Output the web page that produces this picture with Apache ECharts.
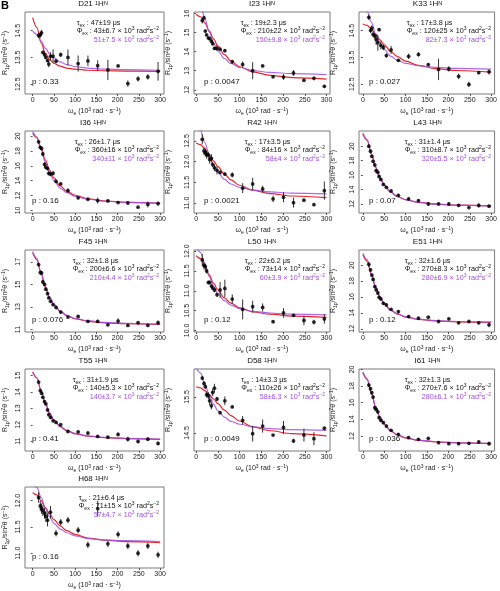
<!DOCTYPE html>
<html><head><meta charset="utf-8">
<script src="https://cdn.jsdelivr.net/npm/echarts@6/dist/echarts.min.js"></script>
<style>html,body{margin:0;padding:0;background:#fff}#c{width:500px;height:591px}</style>
</head><body><div id="c"></div>
<script>
// ---------- data ----------
const residues = ['D21','I23','K33','I36','R42','L43','F45','L50','E51','T55','D58','I61','H68'];
const omegaE = [14,18,21,24,28,31,35,38,42,48,55,66,83,107,130,153,177,201,224,248,271,295];
const fitX = [0,10,20,30,40,50,65,80,100,130,170,220,300];
const xTickValues = [0,50,100,150,200,250,300];

const D21_obs = [14.32,14.35,14.42,13.69,13.6,13.5,13.38,13.25,13.54,13.55,13.36,13.6,13.5,13.27,13.37,13.19,13.03,13.18,12.52,12.7,12.77,12.98];
const D21_err = [0.1,0.12,0.12,0.06,0.06,0.06,0.06,0.12,0.15,0.25,0.08,0.08,0.3,0.3,0.2,0.2,0.38,0.04,0.12,0.1,0.1,0.35];
const D21_red = [14.99,14.62,14.04,13.65,13.42,13.28,13.17,13.10,13.06,13.02,13.0,12.99,12.98];
const D21_purple = [14.48,14.36,14.11,13.84,13.63,13.48,13.33,13.23,13.16,13.10,13.06,13.04,13.02];

const I23_obs = [15.63,15.77,15.08,14.88,14.72,14.68,14.55,14.42,14.17,14.18,14.13,14.05,13.47,13.33,13.0,13.25,12.68,12.67,12.88,12.5,12.6,12.18];
const I23_err = [0.15,0.12,0.08,0.06,0.06,0.06,0.08,0.1,0.08,0.15,0.06,0.08,0.1,0.15,0.45,0.05,0.06,0.15,0.15,0.06,0.1,0.08];
const I23_red = [15.95,15.83,15.51,15.09,14.67,14.29,13.84,13.51,13.21,12.94,12.76,12.64,12.56];
const I23_purple = [16.75,16.44,15.74,15.03,14.45,14.04,13.63,13.38,13.17,13.01,12.91,12.85,12.8];

const K33_obs = [15.0,14.51,14.6,14.36,14.3,14.17,14.05,14.54,13.95,13.87,13.57,13.78,13.39,13.54,13.61,13.23,13.05,13.07,12.79,12.49,12.93,12.96];
const K33_err = [0.1,0.1,0.1,0.1,0.1,0.2,0.3,0.06,0.15,0.1,0.08,0.15,0.06,0.1,0.08,0.05,0.4,0.1,0.1,0.1,0.04,0.1];
const K33_red = [14.75,14.70,14.56,14.36,14.16,13.97,13.72,13.54,13.36,13.20,13.08,13.01,12.95];
const K33_purple = [15.41,15.22,14.81,14.38,14.04,13.80,13.55,13.40,13.28,13.19,13.13,13.09,13.06];

const I36_obs = [19.24,18.5,18.34,17.6,16.2,15.8,15.64,15.0,14.9,15.0,13.9,13.57,12.67,11.69,11.5,11.33,11.28,11.06,11.0,10.43,10.8,10.92];
const I36_err = [0.2,0.2,0.2,0.3,0.3,0.2,0.2,0.3,0.3,0.3,0.2,0.2,0.3,0.2,0.15,0.4,0.2,0.15,0.2,0.1,0.4,0.3];
const I36_red = [20.4,19.8,18.36,16.77,15.41,14.37,13.29,12.6,12.04,11.57,11.27,11.09,10.95];
const I36_purple = [20.65,19.89,18.18,16.43,15.02,14.01,13.01,12.39,11.89,11.5,11.24,11.09,10.98];

const R42_obs = [12.54,12.26,12.22,12.17,12.16,12.05,12.08,11.93,11.85,11.79,11.74,11.7,11.68,11.36,11.46,11.34,11.1,11.14,11.01,11.07,10.96,11.3];
const R42_err = [0.12,0.1,0.1,0.1,0.08,0.1,0.1,0.06,0.08,0.1,0.04,0.04,0.06,0.12,0.15,0.08,0.08,0.12,0.12,0.03,0.03,0.22];
const R42_red = [12.45,12.41,12.31,12.17,12.02,11.88,11.70,11.56,11.43,11.31,11.23,11.17,11.13];
const R42_purple = [12.88,12.75,12.46,12.16,11.92,11.74,11.57,11.46,11.38,11.31,11.27,11.24,11.22];

const L43_obs = [20.0,19.3,18.6,17.9,17.4,16.6,16.4,15.8,15.4,14.7,14.3,13.8,13.2,12.7,12.45,12.0,12.0,12.0,11.8,11.5,11.8,11.7];
const L43_err = [0.25,0.2,0.2,0.2,0.2,0.2,0.2,0.2,0.2,0.2,0.15,0.2,0.2,0.2,0.15,0.3,0.2,0.25,0.1,0.1,0.3,0.2];
const L43_red = [21.7,20.82,18.9,17.03,15.6,14.6,13.63,13.05,12.59,12.22,11.99,11.85,11.75];
const L43_purple = [21.82,20.92,18.98,17.09,15.64,14.62,13.64,13.05,12.58,12.21,11.98,11.83,11.73];

const F45_obs = [16.76,16.05,16.02,15.22,15.0,14.57,14.18,13.8,13.5,13.2,12.95,12.55,12.1,12.16,11.72,11.72,11.42,11.75,11.36,11.6,11.36,11.6];
const F45_err = [0.15,0.2,0.2,0.15,0.1,0.1,0.1,0.1,0.1,0.1,0.1,0.15,0.1,0.1,0.05,0.15,0.1,0.25,0.1,0.1,0.1,0.2];
const F45_red = [17.8,17.2,15.93,14.72,13.81,13.18,12.59,12.23,11.95,11.73,11.59,11.51,11.45];
const F45_purple = [17.92,17.32,16.03,14.8,13.88,13.25,12.64,12.28,12.0,11.78,11.63,11.55,11.49];

const L50_obs = [11.78,11.64,11.61,11.5,11.21,11.21,11.12,11.07,11.02,10.9,11.02,11.06,10.79,10.53,10.6,10.58,10.22,10.44,10.38,10.25,10.21,10.29];
const L50_err = [0.15,0.1,0.08,0.06,0.04,0.04,0.04,0.04,0.06,0.05,0.2,0.22,0.12,0.25,0.15,0.1,0.04,0.12,0.03,0.12,0.06,0.12];
const L50_red = [11.89,11.81,11.63,11.40,11.19,11.02,10.82,10.69,10.57,10.47,10.41,10.36,10.33];
const L50_purple = [12.11,11.97,11.67,11.36,11.11,10.93,10.75,10.64,10.55,10.48,10.44,10.41,10.39];

const E51_obs = [20.1,19.4,18.75,18.2,17.3,16.9,16.5,15.96,15.75,15.2,15.0,14.45,14.17,13.54,13.33,13.46,12.92,13.25,12.75,12.92,12.75,12.5];
const E51_err = [0.3,0.2,0.2,0.2,0.2,0.2,0.2,0.2,0.2,0.2,0.2,0.15,0.2,0.2,0.15,0.15,0.15,0.15,0.15,0.15,0.15,0.3];
const E51_red = [21.31,20.51,18.81,17.18,15.97,15.13,14.33,13.85,13.48,13.18,12.99,12.88,12.8];
const E51_purple = [21.49,20.68,18.94,17.29,16.06,15.2,14.39,13.9,13.52,13.22,13.03,12.92,12.84];

const T55_obs = [14.6,14.08,13.92,13.67,13.41,13.27,12.9,12.61,12.45,12.24,12.14,12.0,11.59,11.57,11.49,11.29,11.24,11.41,11.12,10.98,11.12,10.86];
const T55_err = [0.1,0.08,0.08,0.08,0.08,0.08,0.08,0.08,0.08,0.08,0.06,0.06,0.08,0.08,0.12,0.08,0.08,0.12,0.15,0.1,0.12,0.12];
const T55_red = [15.21,14.85,14.06,13.28,12.70,12.28,11.88,11.64,11.45,11.30,11.21,11.15,11.11];
const T55_purple = [15.23,14.87,14.08,13.3,12.72,12.3,11.9,11.66,11.47,11.32,11.23,11.17,11.13];

const D58_obs = [16.02,15.87,15.78,15.56,15.53,15.39,15.25,15.62,15.74,15.44,15.06,15.39,15.22,14.85,14.48,14.69,14.44,14.65,14.28,14.44,14.34,14.63];
const D58_err = [0.06,0.06,0.06,0.08,0.1,0.12,0.1,0.1,0.12,0.06,0.04,0.12,0.03,0.12,0.22,0.18,0.03,0.18,0.06,0.18,0.18,0.04];
const D58_red = [15.78,15.75,15.67,15.56,15.44,15.31,15.13,14.98,14.83,14.67,14.56,14.48,14.42];
const D58_purple = [16.30,16.16,15.86,15.55,15.30,15.11,14.94,14.82,14.74,14.67,14.62,14.59,14.57];

const I61_obs = [18.12,17.68,17.2,16.68,15.4,15.2,14.9,14.2,13.88,13.6,13.2,12.68,12.2,11.8,11.6,11.72,11.2,11.08,11.08,11.12,11.28,11.08];
const I61_err = [0.25,0.2,0.2,0.2,0.2,0.2,0.2,0.2,0.2,0.15,0.15,0.15,0.15,0.15,0.15,0.15,0.1,0.15,0.15,0.1,0.15,0.25];
const I61_red = [19.6,18.8,17.1,15.47,14.26,13.42,12.62,12.14,11.77,11.47,11.28,11.17,11.09];
const I61_purple = [19.72,18.91,17.19,15.54,14.32,13.46,12.66,12.17,11.79,11.5,11.31,11.19,11.12];

const H68_obs = [12.06,11.9,11.85,11.81,11.76,11.7,11.63,null,11.78,null,11.38,11.59,11.63,11.44,11.16,11.85,11.18,11.36,11.14,11.0,11.14,10.97];
const H68_err = [0.1,0.1,0.1,0.1,0.1,0.1,0.12,0,0.12,0,0.06,0.06,0.06,0.06,0.06,0.15,0.06,0.06,0.06,0.06,0.06,0.06];
const H68_red = [12.15,12.11,12.0,11.87,11.75,11.64,11.52,11.43,11.36,11.29,11.25,11.22,11.2];
const H68_purple = [12.34,12.25,12.06,11.85,11.69,11.57,11.46,11.39,11.33,11.28,11.25,11.24,11.22];

const tauText = ['47±19','19±2.3','17±3.8','26±1.7','17±3.5','31±1.4','32±1.8','22±6.2','32±1.6','31±1.9','14±3.3','32±1.3','21±6.4'];
const phiText = ['43±6.7','210±22','120±25','360±16','84±16','310±8.7','200±6.6','73±14','270±8.3','140±5.3','110±26','270±7.6','71±15'];
const phiGlobalText = ['51±7.5','150±9.8','82±7.3','340±11','58±4','320±5.5','210±4.4','60±3.9','280±6.9','140±3.7','58±6.3','280±6.1','57±4.7'];
const pText = ['0.33','0.0047','0.027','0.16','0.0021','0.07','0.076','0.12','0.12','0.41','0.0049','0.036','0.16'];

const yMin = [12.13,11.78,12.13,9.65,10.76,10.75,10.78,9.96,11.6,10.4,14.0,10.2,10.72];
const yMax = [15.2,16.08,15.2,20.7,12.74,22.1,18.05,12.03,21.9,15.4,16.27,20.05,12.26];
const yTickValues = [[12.5,13.5,14.5],[12,13,14,15,16],[12.5,13.5,14.5],[10,12,14,16,18,20],[11.0,11.5,12.0,12.5],
  [12,14,16,18,20],[11,13,15,17],[10.0,10.5,11.0,11.5,12.0],[12,14,16,18,20],[11,12,13,14,15],[14.5,15.5],[12,14,16,18,20],[11.0,11.5,12.0]];
const yTickDigits = [1,0,1,0,1,0,0,1,0,0,1,0,1];

const obsList = [D21_obs,I23_obs,K33_obs,I36_obs,R42_obs,L43_obs,F45_obs,L50_obs,E51_obs,T55_obs,D58_obs,I61_obs,H68_obs];
const errList = [D21_err,I23_err,K33_err,I36_err,R42_err,L43_err,F45_err,L50_err,E51_err,T55_err,D58_err,I61_err,H68_err];
const redList = [D21_red,I23_red,K33_red,I36_red,R42_red,L43_red,F45_red,L50_red,E51_red,T55_red,D58_red,I61_red,H68_red];
const purpleList = [D21_purple,I23_purple,K33_purple,I36_purple,R42_purple,L43_purple,F45_purple,L50_purple,E51_purple,T55_purple,D58_purple,I61_purple,H68_purple];

// ---------- layout ----------
const FONT = '"Liberation Sans", Arial, sans-serif';
const colLeft = [22,194,359], colRight = [164,330,496];
const colXMin = [-18,-5,-9], colXMax = [309,308,308];
const colNameGap = [15,21,21];
const rowTop = [12,131,250,369,487];
const boxH = 82;
const RED = '#e3262c', PURPLE = '#a24fe0';
const MAIN = 7.2, SMALL = 5;

const mctx = document.createElement('canvas').getContext('2d');
function segW(segs){
  let w = 0;
  segs.forEach(([t,k])=>{ mctx.font = (k==='n'?MAIN:SMALL) + 'px ' + FONT; w += mctx.measureText(t).width; });
  return w;
}
function segStr(segs){ return segs.map(([t,k])=>'{'+k+'|'+t+'}').join(''); }
function richFor(col){
  return {
    n:{fontSize:MAIN, fontFamily:FONT, fill:col, lineHeight:10, verticalAlign:'middle'},
    sub:{fontSize:SMALL, fontFamily:FONT, fill:col, lineHeight:6, verticalAlign:'bottom'},
    sup:{fontSize:SMALL, fontFamily:FONT, fill:col, lineHeight:6, verticalAlign:'top'}
  };
}
const axisRich = {
  n:{fontSize:7, fontFamily:FONT, color:'#222', lineHeight:9, verticalAlign:'middle'},
  s:{fontSize:5, fontFamily:FONT, color:'#222', lineHeight:5, verticalAlign:'bottom'},
  p:{fontSize:5, fontFamily:FONT, color:'#222', lineHeight:5, verticalAlign:'top'}
};
const xName = '{n|ω}{s|e}{n| (10}{p|3}{n| rad · s}{p|−1}{n|)}';
const yName = '{n|R}{s|1ρ}{n|/sin}{p|2}{n|θ (s}{p|−1}{n|)}';

const grids=[], xAxes=[], yAxes=[], series=[], graphics=[];
graphics.push({type:'text', left:1, top:0, style:{text:'B', font:'bold 11px '+FONT, fill:'#000'}});

residues.forEach((name,i)=>{
  const r = Math.floor(i/3), c = i%3;
  const L = colLeft[c], R = colRight[c], T = rowTop[r], B = T + boxH;
  grids.push({left:L, top:T, width:R-L, height:boxH, show:true, borderColor:'#7a7a7a', borderWidth:1, backgroundColor:'rgba(0,0,0,0)'});
  xAxes.push({type:'value', gridIndex:i, min:colXMin[c], max:colXMax[c],
    axisLine:{show:false}, splitLine:{show:false},
    axisTick:{show:true, customValues:xTickValues, length:2, lineStyle:{color:'#555'}},
    axisLabel:{customValues:xTickValues, fontSize:7, margin:3, color:'#222', fontFamily:FONT},
    name:xName, nameLocation:'middle', nameGap:13,
    nameTextStyle:{fontSize:7, color:'#222', fontFamily:FONT, rich:axisRich}});
  const dg = yTickDigits[i];
  yAxes.push({type:'value', gridIndex:i, min:yMin[i], max:yMax[i],
    axisLine:{show:false}, splitLine:{show:false},
    axisTick:{show:true, customValues:yTickValues[i], length:2, lineStyle:{color:'#555'}},
    axisLabel:{customValues:yTickValues[i], rotate:90, fontSize:7, margin:3, color:'#222', fontFamily:FONT,
      formatter:v=>Number(v).toFixed(dg)},
    name:yName, nameLocation:'middle', nameGap:colNameGap[c], nameRotate:90,
    nameTextStyle:{fontSize:7, color:'#222', fontFamily:FONT, rich:axisRich}});

  series.push({type:'line', xAxisIndex:i, yAxisIndex:i, data:fitX.map((x,k)=>[x, redList[i][k]]),
    smooth:0.35, smoothMonotone:'x', showSymbol:false, clip:true, lineStyle:{color:RED, width:1.2}, z:3, silent:true});
  series.push({type:'line', xAxisIndex:i, yAxisIndex:i, data:fitX.map((x,k)=>[x, purpleList[i][k]]),
    smooth:0.35, smoothMonotone:'x', showSymbol:false, clip:true, lineStyle:{color:PURPLE, width:1.2, opacity:0.85}, z:4, silent:true});
  const pts = [];
  omegaE.forEach((x,k)=>{ if(obsList[i][k]!=null) pts.push([x, obsList[i][k], errList[i][k]]); });
  series.push({type:'custom', xAxisIndex:i, yAxisIndex:i, data:pts, encode:{x:0,y:1}, clip:true, z:5, silent:true,
    renderItem:(params, api)=>{
      const x=api.value(0), y=api.value(1), e=api.value(2);
      const p1=api.coord([x,y-e]), p2=api.coord([x,y+e]);
      return {type:'line', shape:{x1:p1[0],y1:p1[1],x2:p2[0],y2:p2[1]}, style:{stroke:'#333', lineWidth:1}};
    }});
  series.push({type:'scatter', xAxisIndex:i, yAxisIndex:i, data:pts.map(p=>[p[0],p[1]]), symbolSize:3.8,
    itemStyle:{color:'#000'}, z:6, silent:true});

  // texts
  graphics.push({type:'text', x:(L+R)/2, y:T-8, style:{text:name+' {p|1}H{p|N}', font:'8px '+FONT, fill:'#111', textAlign:'center', textVerticalAlign:'middle',
    rich:{p:{fontSize:5.5, fontFamily:FONT, fill:'#111', lineHeight:6, verticalAlign:'top'}}}});
  const phiSegs = [['Φ','n'],['ex','sub'],[' : '+phiText[i]+' × 10','n'],['3','sup'],[' rad','n'],['2','sup'],['s','n'],['−2','sup']];
  const gSegs = [[phiGlobalText[i]+' × 10','n'],['3','sup'],[' rad','n'],['2','sup'],['s','n'],['−2','sup']];
  const tauSegs = [['τ','n'],['ex','sub'],[' : '+tauText[i]+' μs','n']];
  const rx = R - 5;
  const phiLeft = rx - segW(phiSegs);
  graphics.push({type:'text', x:phiLeft, y:T+11, style:{text:segStr(tauSegs), rich:richFor('#111'), textAlign:'left', textVerticalAlign:'middle'}});
  graphics.push({type:'text', x:rx, y:T+19.5, style:{text:segStr(phiSegs), rich:richFor('#111'), textAlign:'right', textVerticalAlign:'middle'}});
  graphics.push({type:'text', x:rx, y:T+28, style:{text:segStr(gSegs), rich:richFor(PURPLE), textAlign:'right', textVerticalAlign:'middle'}});
  graphics.push({type:'text', x:L+10, y:B-12, style:{text:'p : '+pText[i], font:'8px '+FONT, fill:'#111', textAlign:'left', textVerticalAlign:'middle'}});
});

const chart = echarts.init(document.getElementById('c'), null, {renderer:'canvas'});
chart.setOption({animation:false, backgroundColor:'#fff', grid:grids, xAxis:xAxes, yAxis:yAxes, series:series, graphic:graphics});
</script>
</body></html>
